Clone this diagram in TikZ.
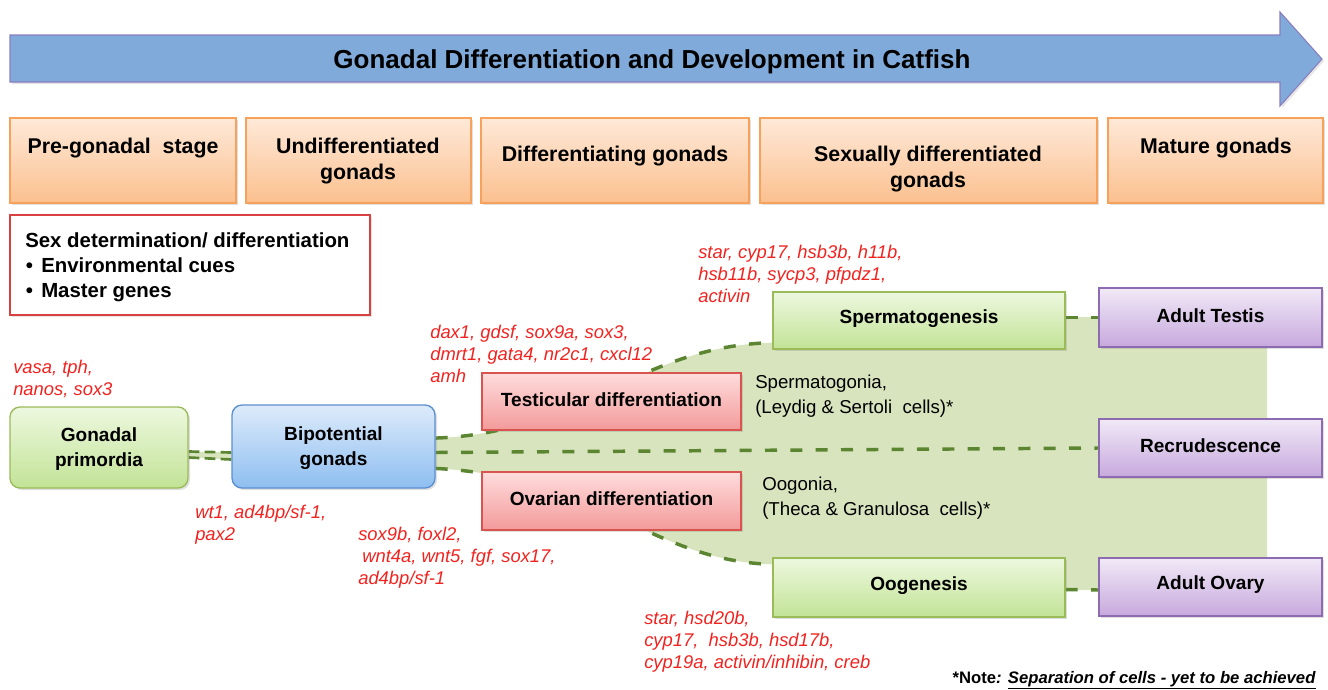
\documentclass[tikz,border=0pt]{standalone}
\usepackage{fontspec}
\setmainfont{Liberation Sans}
\usetikzlibrary{fit,calc,shadows}
\pgfdeclarelayer{bg}
\pgfsetlayers{bg,main}
\definecolor{arrowFill}{HTML}{7FAAD9}
\definecolor{arrowLine}{HTML}{8A7DBE}
\definecolor{orTop}{HTML}{FEE9D8}
\definecolor{orBot}{HTML}{FBC08F}
\definecolor{orLine}{HTML}{F7A15A}
\definecolor{pkTop}{HTML}{FFDCDC}
\definecolor{pkBot}{HTML}{F39A9A}
\definecolor{pkLine}{HTML}{D9534F}
\definecolor{grTop}{HTML}{EDF8DF}
\definecolor{grBot}{HTML}{C2E396}
\definecolor{grLine}{HTML}{9BBB59}
\definecolor{blTop}{HTML}{DDEBFB}
\definecolor{blBot}{HTML}{8EBEF0}
\definecolor{blLine}{HTML}{5A8FCF}
\definecolor{puTop}{HTML}{F1E9F7}
\definecolor{puBot}{HTML}{C7A9DD}
\definecolor{puLine}{HTML}{8C6BB1}
\definecolor{zone}{HTML}{D7E4BD}
\definecolor{dashGreen}{HTML}{5B8530}
\definecolor{geneRed}{HTML}{F2231F}
\definecolor{boxRed}{HTML}{D94040}
\begin{document}
\begin{tikzpicture}[x=0.75pt,y=-0.75pt,
  base/.style={inner sep=0pt, line width=1pt,
    drop shadow={shadow xshift=1.5pt,shadow yshift=-1.5pt,opacity=0.25}},
  boxlabel/.style={font=\bfseries\fontsize{14.3}{18.75}\selectfont, align=center, inner sep=0pt},
  onelabel/.style={label={[boxlabel, yshift=1.5pt]center:#1}},
  twolabel/.style={label={[boxlabel, yshift=-1.5pt]center:#1}},
  stagebox/.style={base, draw=orLine, top color=orTop, bottom color=orBot},
  pinkbox/.style={base, draw=pkLine, top color=pkTop, bottom color=pkBot},
  greenbox/.style={base, draw=grLine, top color=grTop, bottom color=grBot},
  bluebox/.style={base, draw=blLine, top color=blTop, bottom color=blBot},
  purplebox/.style={base, draw=puLine, top color=puTop, bottom color=puBot},
  stagetext/.style={font=\bfseries\fontsize{16}{20}\selectfont, align=center, inner sep=0pt},
  gene/.style={text=geneRed, font=\itshape\fontsize{13.8}{16.5}\selectfont, align=left, anchor=west, inner sep=0pt},
  cellnote/.style={font=\fontsize{14}{18.75}\selectfont, align=left, anchor=west, inner sep=0pt},
  link/.style={draw=dashGreen, line width=2.6pt, dash pattern=on 9pt off 10pt},
]
\useasboundingbox (0,0) rectangle (1328,689);

% big arrow
\path[draw=arrowLine, fill=arrowFill, line width=0.8pt,
  drop shadow={shadow xshift=1.5pt,shadow yshift=-1.5pt,opacity=0.2}]
  (10,35) -- (1280,35) -- (1280,12) -- (1322,59) -- (1280,106) -- (1280,82) -- (10,82) -- cycle;
\node[font=\bfseries\fontsize{19.5}{22}\selectfont, inner sep=0pt] (title) at (652,62)
  {Gonadal Differentiation and Development in Catfish};

% stage boxes
\node[stagebox, fit={(10,118)(236,203)}] (s1) {};
\node[stagebox, fit={(246,118)(471,203)}] (s2) {};
\node[stagebox, fit={(481,118)(749,203)}] (s3) {};
\node[stagebox, fit={(760,118)(1097,203)}] (s4) {};
\node[stagebox, fit={(1108,118)(1323,203)}] (s5) {};
\node[stagetext] (t1) at (123,148) {Pre-gonadal\ \ stage};
\node[stagetext] (t2) at (358,161) {Undifferentiated\\gonads};
\node[stagetext] (t3) at (615,156) {Differentiating gonads};
\node[stagetext] (t4) at (928,169) {Sexually differentiated\\gonads};
\node[stagetext] (t5) at (1216,148) {Mature gonads};

% sex determination box
\node[draw=boxRed, line width=2.2pt, fill=white, inner sep=0pt, fit={(10,215)(370,315)},
  drop shadow={shadow xshift=1.5pt,shadow yshift=-1.5pt,opacity=0.2}] (sexbox) {};
\node[font=\bfseries\fontsize{15.3}{18.75}\selectfont, align=left, anchor=west, inner sep=0pt] (sextext) at (25,267)
  {Sex determination/ differentiation\\
   \makebox[12pt][l]{\hspace{0.5pt}\textbullet}Environmental cues\\
   \makebox[12pt][l]{\hspace{0.5pt}\textbullet}Master genes};

% main boxes
\node[greenbox, rounded corners=7.5pt, fit={(10,407)(188,488)}, twolabel={Gonadal\\primordia}] (prim) {};
\node[bluebox, rounded corners=7.5pt, fit={(232,405)(435,488)}, twolabel={Bipotential\\gonads}] (bip) {};
\node[pinkbox, fit={(482,373)(741,430)}, onelabel={Testicular differentiation}] (testi) {};
\node[pinkbox, fit={(482,472)(741,530)}, onelabel={Ovarian differentiation}] (ovar) {};
\node[greenbox, fit={(773,292)(1065,349)}, onelabel={Spermatogenesis}] (sperm) {};
\node[greenbox, fit={(773,558)(1065,617)}, onelabel={Oogenesis}] (ooge) {};
\node[purplebox, fit={(1099,288)(1322,347)}, onelabel={Adult Testis}] (atestis) {};
\node[purplebox, fit={(1099,419)(1322,477)}, onelabel={Recrudescence}] (recr) {};
\node[purplebox, fit={(1099,558)(1322,616)}, onelabel={Adult Ovary}] (aovary) {};

% gene lists
\node[gene] (g1) at (13,379) {vasa, tph,\\nanos, sox3};
\node[gene] (g2) at (195,525) {wt1, ad4bp/sf-1,\\pax2};
\node[gene] (g3) at (358,558) {sox9b, foxl2,\\\hspace{3pt}wnt4a, wnt5, fgf, sox17,\\ad4bp/sf-1};
\node[gene] (g4) at (430,354) {dax1, gdsf, sox9a, sox3,\\dmrt1, gata4, nr2c1, cxcl12\\amh};
\node[gene] (g5) at (698,274) {star, cyp17, hsb3b, h11b,\\hsb11b, sycp3, pfpdz1,\\activin};
\node[gene] (g6) at (644,642) {star, hsd20b,\\cyp17,\ \ hsb3b, hsd17b,\\cyp19a, activin/inhibin, creb};

% cell notes
\node[cellnote] (c1) at (755,396) {Spermatogonia,\\(Leydig \& Sertoli\ \ cells)*};
\node[cellnote] (c2) at (762,498) {Oogonia,\\(Theca \& Granulosa\ \ cells)*};

% footnote
\node[font=\bfseries\fontsize{12.5}{15}\selectfont, anchor=base east, inner sep=0pt] (note) at (1316,683)
  {*Note\textit{: }\underline{\textit{Separation of cells - yet to be achieved}}};

% background zone and dashed links
\begin{pgfonlayer}{bg}
  \coordinate (u0) at ($(bip.north east)!0.4!(bip.south east)$);
  \coordinate (u1) at ($(sperm.south west)+(0,-7)$);
  \coordinate (l0) at ($(bip.north east)!0.76!(bip.south east)$);
  \coordinate (l1) at ($(ooge.north west)+(0,7)$);
  \fill[zone] (u0) .. controls ($(u0)+(145,-5)$) and ($(u1)+(-133,3)$) .. (u1)
    -- (773,317) -- (1267,317) -- (1267,590) -- (773,590) -- (l1)
    .. controls ($(l1)+(-120,-3)$) and ($(l0)+(160,8)$) .. (l0) -- cycle;
  \fill[zone] ($(prim.east)+(0,4)$) -- ($(bip.west)+(0,6)$) -- ($(bip.west)+(0,13)$) -- ($(prim.east)+(0,10)$) -- cycle;
  \draw[link] (u0) .. controls ($(u0)+(145,-5)$) and ($(u1)+(-133,3)$) .. (u1);
  \draw[link] (l0) .. controls ($(l0)+(160,8)$) and ($(l1)+(-120,-3)$) .. (l1);
  \draw[link] ($(bip.east)+(0,6)$) -- (recr.west);
  \draw[link] ($(sperm.east)+(0,-3)$) -- (atestis.west);
  \draw[link] ($(ooge.east)+(0,2)$) -- ($(aovary.west)+(0,3)$);
  \draw[link, line width=2pt, dash pattern=on 8pt off 4pt] ($(prim.east)+(0,4)$) -- ($(bip.west)+(0,6)$);
  \draw[link, line width=2pt, dash pattern=on 8pt off 4pt] ($(prim.east)+(0,10)$) -- ($(bip.west)+(0,13)$);
\end{pgfonlayer}
\end{tikzpicture}
\end{document}
